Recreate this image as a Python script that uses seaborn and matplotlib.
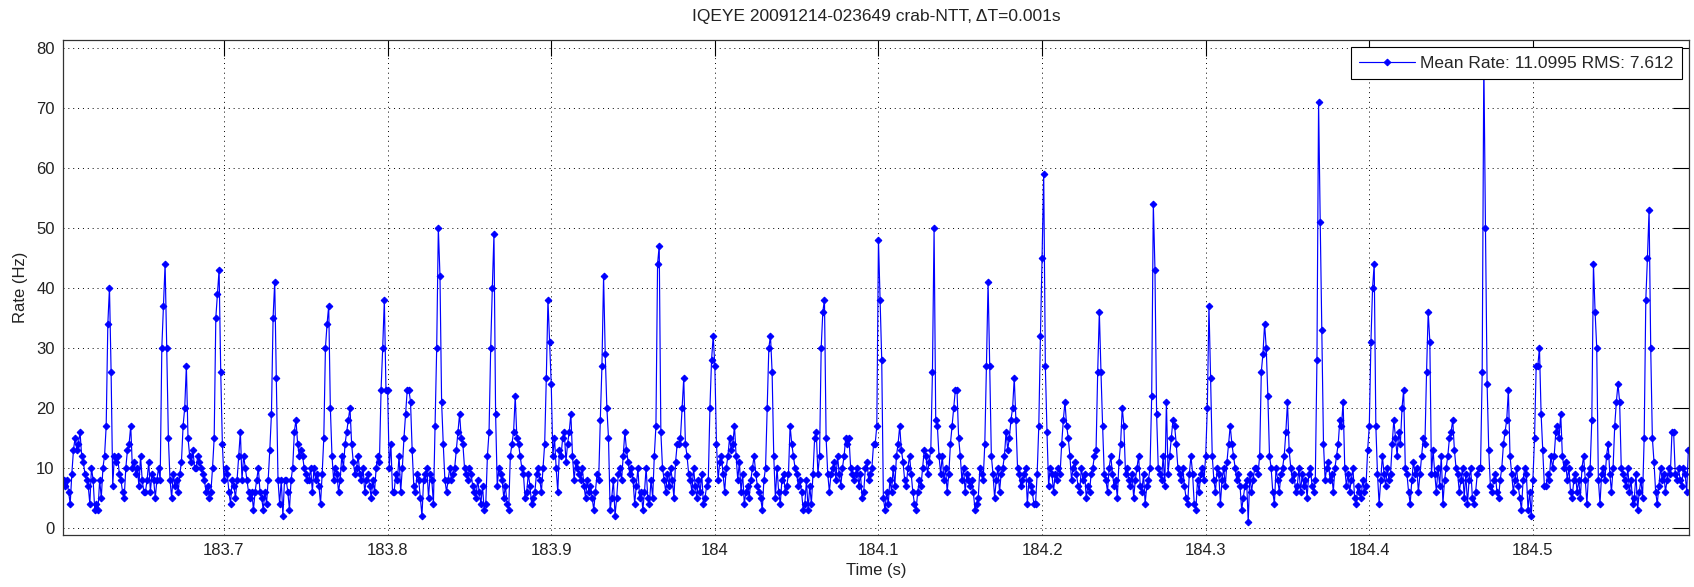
import numpy as np
import pandas as pd
import seaborn as sns
import matplotlib
matplotlib.use("Agg")
import matplotlib.pyplot as plt
from matplotlib import font_manager as fm

# ---------------- data ----------------
t_start = 183.602      # first sample time (s)
dt = 0.001             # bin width (s)

rate_pre = [8, 7, 8, 6, 4, 9, 13, 15, 13, 14, 16, 12, 11, 9, 8, 7, 4, 10, 8, 3, 4, 3, 8, 5, 10, 12, 17, 34]
rate_p00 = [40, 26, 7, 12, 11, 12, 9, 8, 6, 5, 10, 13, 14, 17, 10, 11, 9, 10, 7, 12, 8, 6, 6, 8, 11, 6, 9, 8, 5, 8, 10, 8, 30, 37]
rate_p01 = [44, 30, 15, 8, 5, 9, 7, 8, 6, 9, 11, 17, 20, 27, 15, 12, 11, 13, 10, 10, 12, 11, 10, 9, 8, 6, 7, 5, 6, 10, 15, 35, 39]
rate_p02 = [43, 26, 14, 8, 10, 9, 6, 4, 8, 7, 5, 8, 12, 16, 8, 12, 10, 8, 6, 5, 6, 3, 6, 8, 10, 6, 5, 3, 6, 4, 8, 13, 19, 35]
rate_p03 = [41, 25, 8, 4, 8, 2, 8, 8, 6, 3, 8, 10, 16, 18, 14, 12, 13, 12, 10, 9, 8, 8, 10, 6, 10, 8, 9, 7, 4, 9, 15, 30, 34]
rate_p04 = [37, 20, 12, 8, 10, 9, 6, 8, 12, 10, 14, 16, 18, 20, 14, 11, 9, 10, 12, 9, 8, 10, 6, 8, 9, 7, 5, 8, 6, 10, 12, 11, 23, 30]
rate_p05 = [38, 23, 23, 10, 14, 6, 6, 9, 8, 12, 6, 10, 15, 19, 23, 23, 21, 13, 7, 6, 9, 8, 5, 2, 8, 9, 10, 5, 9, 8, 4, 17, 30]
rate_p06 = [50, 42, 21, 14, 8, 6, 8, 10, 8, 9, 10, 13, 16, 19, 15, 14, 10, 9, 8, 10, 9, 7, 6, 5, 8, 6, 4, 7, 3, 4, 12, 16, 30, 40]
rate_p07 = [49, 19, 7, 10, 9, 8, 5, 7, 4, 3, 12, 14, 16, 22, 15, 14, 12, 10, 9, 5, 6, 9, 7, 4, 5, 6, 9, 10, 8, 6, 10, 14, 25]
rate_p08 = [38, 31, 24, 12, 15, 10, 6, 13, 12, 15, 16, 11, 14, 16, 19, 12, 8, 11, 10, 9, 8, 10, 7, 5, 8, 6, 7, 5, 3, 6, 9, 8, 18, 27]
rate_p09 = [42, 29, 20, 15, 3, 5, 8, 2, 5, 9, 10, 8, 12, 16, 13, 11, 9, 10, 8, 4, 7, 10, 5, 6, 3, 6, 10, 5, 4, 8, 5, 12, 17, 44]
rate_p10 = [47, 16, 10, 8, 6, 9, 7, 10, 8, 5, 11, 14, 14, 15, 20, 25, 14, 12, 9, 8, 6, 10, 7, 5, 8, 6, 9, 4, 5, 7, 8, 20, 28]
rate_p11 = [32, 27, 14, 8, 11, 12, 9, 6, 10, 12, 15, 13, 14, 17, 12, 8, 11, 6, 9, 4, 6, 7, 5, 8, 10, 12, 9, 7, 6, 5, 3, 8, 10, 20]
rate_p12 = [30, 32, 26, 12, 5, 10, 6, 4, 8, 9, 6, 7, 9, 17, 14, 12, 10, 9, 7, 8, 6, 3, 4, 8, 3, 7, 4, 9, 15, 16, 9, 12, 30, 36]
rate_p13 = [38, 15, 9, 6, 9, 10, 11, 8, 12, 9, 7, 10, 12, 15, 14, 15, 10, 9, 8, 9, 10, 7, 9, 5, 6, 10, 11, 8, 9, 10, 14, 14, 17]
rate_p14 = [48, 38, 28, 5, 3, 6, 4, 8, 6, 10, 7, 12, 14, 17, 13, 11, 8, 7, 10, 12, 9, 6, 4, 3, 6, 8, 7, 10, 13, 12, 9, 11, 13, 26]
rate_p15 = [50, 18, 17, 12, 9, 12, 8, 10, 6, 9, 14, 17, 20, 23, 23, 15, 12, 8, 10, 6, 9, 8, 7, 8, 6, 3, 4, 5, 10, 9, 8, 14, 27]
rate_p16 = [41, 27, 12, 9, 5, 8, 10, 6, 9, 10, 12, 16, 13, 15, 18, 20, 25, 18, 10, 9, 7, 8, 9, 10, 4, 8, 7, 6, 4, 4, 9, 17, 32, 45]
rate_p17 = [59, 27, 16, 7, 10, 9, 6, 9, 8, 10, 9, 14, 18, 21, 17, 15, 12, 8, 10, 11, 9, 7, 6, 10, 8, 9, 5, 7, 6, 9, 10, 12, 13, 26]
rate_p18 = [36, 26, 17, 9, 8, 6, 10, 12, 9, 7, 8, 5, 11, 14, 20, 17, 9, 10, 8, 7, 9, 5, 8, 10, 12, 7, 6, 9, 4, 7, 8, 10, 22]
rate_p19 = [54, 43, 19, 10, 9, 8, 12, 7, 21, 9, 12, 15, 18, 17, 14, 10, 9, 8, 10, 7, 5, 4, 9, 12, 9, 4, 3, 8, 6, 9, 10, 8, 12, 20]
rate_p20 = [37, 25, 12, 8, 6, 10, 9, 4, 8, 10, 7, 11, 14, 17, 14, 12, 10, 8, 9, 7, 3, 5, 7, 8, 1, 9, 6, 8, 10, 10, 9, 12, 26, 29]
rate_p21 = [34, 30, 22, 12, 10, 6, 4, 10, 8, 6, 9, 10, 12, 16, 21, 13, 10, 8, 9, 6, 7, 10, 6, 9, 7, 8, 5, 9, 10, 7, 6, 8, 28]
rate_p22 = [71, 51, 33, 14, 8, 10, 11, 8, 9, 6, 10, 12, 14, 18, 17, 21, 10, 7, 9, 6, 8, 10, 5, 4, 7, 6, 5, 8, 6, 7, 13, 17, 31, 40]
rate_p23 = [44, 17, 9, 4, 8, 12, 9, 7, 10, 8, 9, 14, 18, 15, 12, 16, 14, 20, 23, 10, 9, 6, 4, 8, 11, 9, 10, 6, 9, 12, 15, 14, 26]
rate_p24 = [36, 31, 9, 13, 9, 6, 10, 7, 12, 4, 8, 10, 12, 15, 16, 18, 13, 10, 9, 6, 8, 10, 5, 9, 4, 8, 10, 5, 4, 6, 9, 10, 10, 26]
rate_p25 = [78, 50, 24, 13, 7, 6, 8, 9, 6, 5, 8, 10, 14, 16, 18, 23, 12, 9, 6, 8, 10, 7, 5, 3, 8, 10, 9, 3, 6, 2, 8, 15, 27, 27]
rate_p26 = [30, 19, 13, 7, 7, 9, 8, 12, 10, 12, 16, 17, 15, 19, 12, 10, 11, 8, 10, 6, 5, 8, 9, 6, 8, 5, 10, 12, 8, 4, 9, 10, 18]
rate_p27 = [44, 36, 30, 8, 4, 9, 10, 8, 12, 14, 9, 6, 10, 17, 21, 24, 21, 10, 9, 8, 7, 10, 6, 8, 4, 5, 9, 3, 6, 8, 5, 15, 38, 45]
rate_p28 = [53, 30, 15, 11, 6, 4, 7, 10, 8, 9, 6, 8, 10, 9, 16, 16, 9, 8, 10, 8, 7, 10, 9, 6, 13]

segments = [rate_pre, rate_p00, rate_p01, rate_p02, rate_p03, rate_p04, rate_p05, rate_p06,
            rate_p07, rate_p08, rate_p09, rate_p10, rate_p11, rate_p12, rate_p13, rate_p14,
            rate_p15, rate_p16, rate_p17, rate_p18, rate_p19, rate_p20, rate_p21, rate_p22,
            rate_p23, rate_p24, rate_p25, rate_p26, rate_p27, rate_p28]

x_ticks = [183.7, 183.8, 183.9, 184.0, 184.1, 184.2, 184.3, 184.4, 184.5]
x_tick_labels = ["183.7", "183.8", "183.9", "184", "184.1", "184.2", "184.3", "184.4", "184.5"]
y_ticks = [0, 10, 20, 30, 40, 50, 60, 70, 80]

title_text = "IQEYE 20091214-023649 crab-NTT, \u0394T=0.001s"
legend_text = "Mean Rate: 11.0995 RMS: 7.612"

rate = np.concatenate([np.asarray(s, dtype=float) for s in segments])
time = t_start + dt * np.arange(len(rate))
df = pd.DataFrame({"Time (s)": time, "Rate (Hz)": rate, "series": legend_text})

# ---------------- style ----------------
sns.set_theme(style="white")
names = {f.name for f in fm.fontManager.ttflist}
fam = [f for f in ["Liberation Sans", "DejaVu Sans"] if f in names]
plt.rcParams["font.family"] = fam
FS_TICK = 12
FS_TEXT = 12.5

fig = plt.figure(figsize=(16.94, 5.87), dpi=100)
fig.patch.set_facecolor("white")
ax = fig.add_axes([63 / 1694, 1 - 535 / 587, (1689 - 63) / 1694, (535 - 40) / 587])

blue = (0.0, 0.0, 1.0)
sns.lineplot(data=df, x="Time (s)", y="Rate (Hz)", hue="series", palette=[blue],
             estimator=None, sort=False, marker="D", markersize=3.4,
             markeredgecolor=blue, markerfacecolor=blue, linewidth=0.85, ax=ax)

ax.set_xlim(183.6016, 184.5954)
ax.set_ylim(-1.2, 81.3)
ax.set_xticks(x_ticks)
ax.set_xticklabels(x_tick_labels)
ax.set_yticks(y_ticks)
ax.tick_params(direction="in", length=11.5, width=0.8, top=True, right=True,
               labelsize=FS_TICK, colors="black", pad=6)
ax.tick_params(axis="x", labelcolor="#222222")
ax.tick_params(axis="y", labelcolor="#222222")
ax.grid(True, color="black", linestyle=(0, (1, 4)), linewidth=0.7)
for sp in ax.spines.values():
    sp.set_visible(True)
    sp.set_color("#333333")
    sp.set_linewidth(0.9)

ax.set_xlabel("Time (s)", fontsize=FS_TICK, color="#222222", labelpad=3)
ax.set_ylabel("Rate (Hz)", fontsize=FS_TICK, color="#222222", labelpad=6)
ax.set_title(title_text, fontsize=FS_TEXT, color="#222222", pad=14)

leg = ax.legend(loc="upper right", fontsize=FS_TEXT, frameon=True, fancybox=False,
                framealpha=1, edgecolor="black", handlelength=3.2,
                borderaxespad=0.4, borderpad=0.5, handletextpad=0.3)
leg.get_frame().set_linewidth(0.8)
leg.set_zorder(10)

fig.savefig("out.png", dpi=100, facecolor="white")
